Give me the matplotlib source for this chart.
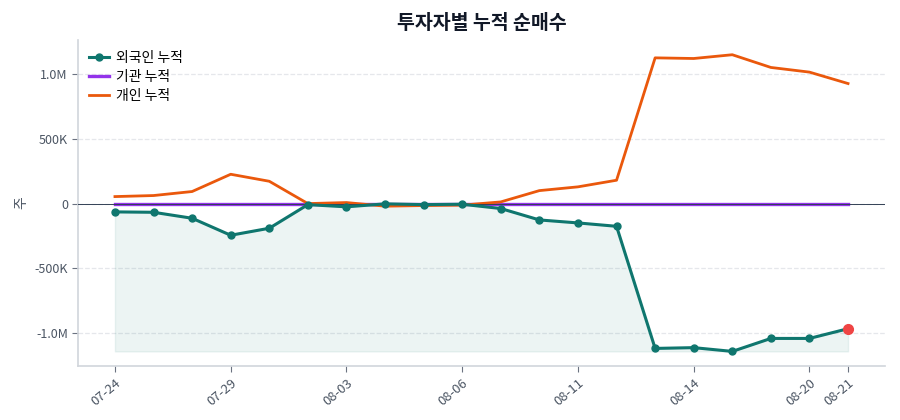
import matplotlib
matplotlib.use("Agg")
import matplotlib.pyplot as plt
import numpy as np
from matplotlib.ticker import FuncFormatter

plt.rcParams['font.family'] = ['Noto Sans CJK KR', 'DejaVu Sans']
plt.rcParams['axes.unicode_minus'] = False

dates = ["07-24", "07-25", "07-28", "07-29", "07-30", "07-31", "08-03", "08-04",
         "08-05", "08-06", "08-07", "08-10", "08-11", "08-12", "08-13", "08-14",
         "08-18", "08-19", "08-20", "08-21"]
tick_labels = ["07-24", "07-29", "08-03", "08-06", "08-11", "08-14", "08-20", "08-21"]

foreign_cum = [-64000, -67000, -113000, -244000, -190000, -8000, -25000, -2000,
               -8000, -5000, -38000, -126000, -149000, -175000, -1116000, -1110000,
               -1139000, -1039000, -1039000, -964000]
inst_cum = [0] * 20
indiv_cum = [54000, 62000, 93000, 226000, 172000, 0, 8000, -20000,
             -15000, -12000, 13000, 100000, 129000, 180000, 1123000, 1118000,
             1147000, 1049000, 1013000, 925000]

x = np.arange(len(dates))
foreign = np.array(foreign_cum)

fig, ax = plt.subplots(figsize=(9, 4.2), dpi=100)

c_for = '#0f766e'
c_inst = '#9333ea'
c_ind = '#ea580c'

ax.fill_between(x, foreign, foreign.min(), color=c_for, alpha=0.08, zorder=1)
ax.plot(x, foreign, color=c_for, lw=2.2, marker='o', ms=5, label='외국인 누적', zorder=4)
ax.plot(x, inst_cum, color=c_inst, lw=2.4, label='기관 누적', zorder=3)
ax.plot(x, indiv_cum, color=c_ind, lw=2, label='개인 누적', zorder=3)
ax.axhline(0, color='#334155', lw=0.7, zorder=3.5)
ax.plot(x[-1], foreign[-1], 'o', color='#ef4444', ms=7, zorder=5)

tick_idx = [dates.index(t) for t in tick_labels]
ax.set_xticks(tick_idx)
ax.set_xticklabels(tick_labels, rotation=40, ha='right', rotation_mode='anchor')

def fmt(v, pos):
    if v == 0:
        return '0'
    if abs(v) >= 1e6:
        return f'{v/1e6:.1f}M'
    return f'{v/1e3:.0f}K'
ax.yaxis.set_major_formatter(FuncFormatter(fmt))
ax.set_yticks([-1e6, -5e5, 0, 5e5, 1e6])

ax.grid(axis='y', linestyle='--', color='#e5e7eb', lw=0.9)
ax.set_axisbelow(True)
for s in ['top', 'right']:
    ax.spines[s].set_visible(False)
for s in ['left', 'bottom']:
    ax.spines[s].set_color('#d1d5db')
    ax.spines[s].set_linewidth(1.2)
ax.tick_params(colors='#4b5563', labelsize=9, length=4)
ax.tick_params(axis='x', labelsize=9.5)
ax.tick_params(axis='both', color='#6b7280')

ax.set_ylabel('주', color='#4b5563', fontsize=10)
ax.set_title('투자자별 누적 순매수', fontsize=14, fontweight='bold', color='#111827', pad=8)

leg = ax.legend(loc='upper left', frameon=False, fontsize=10, handlelength=1.4,
                handletextpad=0.5, labelspacing=0.35, borderaxespad=0.4)

fig.subplots_adjust(left=0.087, right=0.983, top=0.905, bottom=0.128)
fig.savefig('out.png', dpi=100)
